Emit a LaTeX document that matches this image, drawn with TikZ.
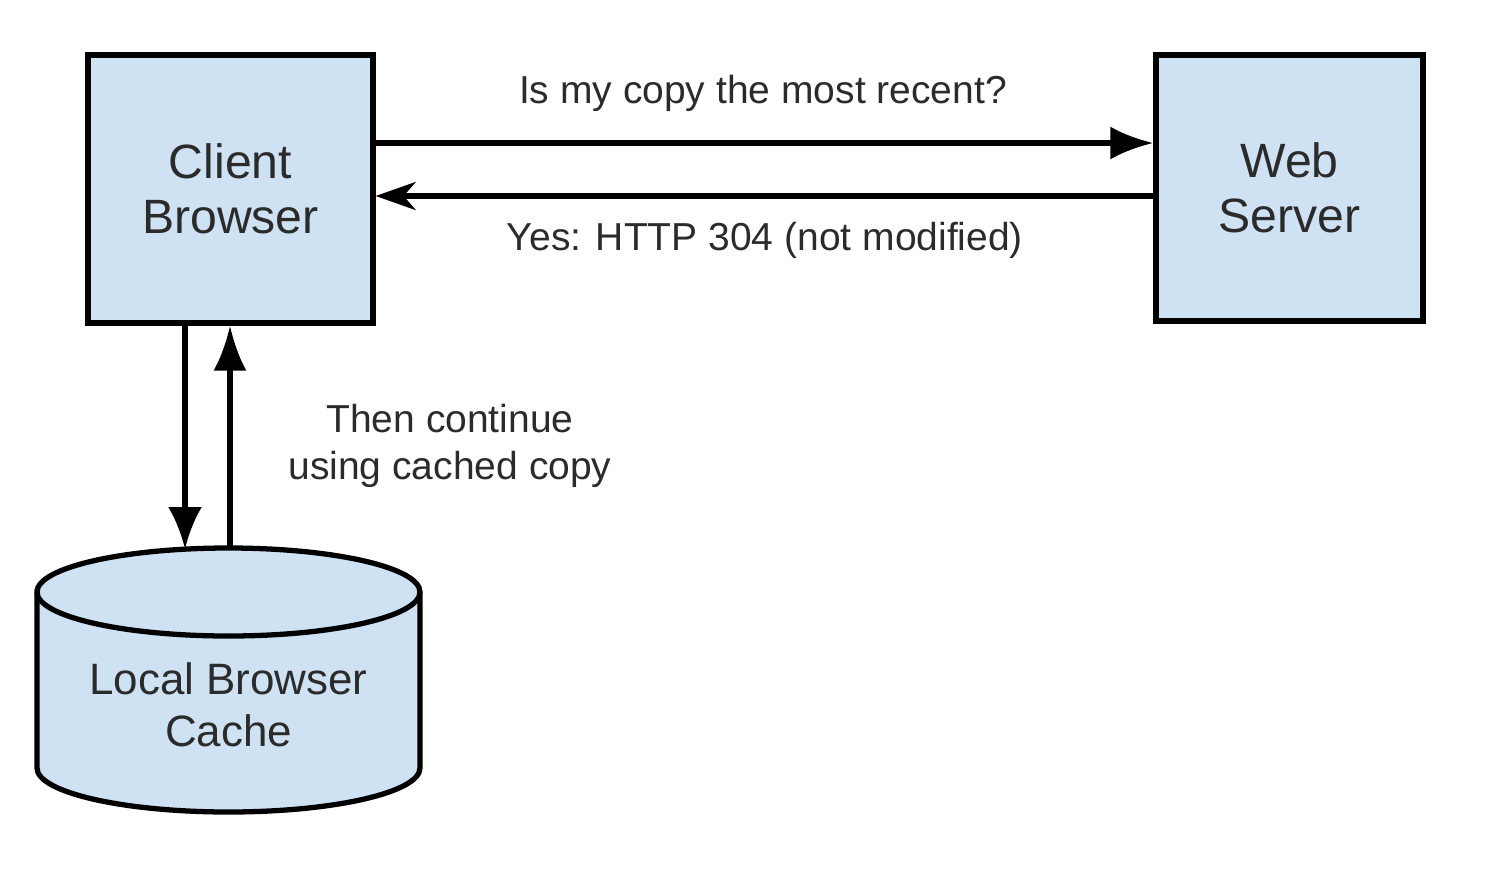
\documentclass[tikz,border=0pt]{standalone}
\usepackage{fontspec}
\setmainfont{Liberation Sans}
\usetikzlibrary{arrows.meta}
\definecolor{boxblue}{HTML}{CFE2F3}
\definecolor{inkgray}{HTML}{2B2B2B}
\begin{document}
\begin{tikzpicture}[line width=1.5pt,
  box/.style={draw=black, fill=boxblue, text=inkgray, align=center, font=\fontsize{13.7}{15.6}\selectfont},
  lbl/.style={text=inkgray, align=center, font=\fontsize{11.1}{13.2}\selectfont}]
  \useasboundingbox (0,0) rectangle (15.09,8.79);
  % the two boxes
  \node[box, minimum width=2.85cm, minimum height=2.68cm] (cb) at (2.305,6.90) {Client\\Browser};
  \node[box, minimum width=2.67cm, minimum height=2.66cm] (ws) at (12.895,6.91) {Web\\Server};
  % cache cylinder
  \draw[fill=boxblue] (0.37,2.87) -- (0.37,1.11) arc[start angle=180,end angle=360,x radius=1.915,y radius=0.44]
    -- (4.20,2.87) arc[start angle=0,end angle=180,x radius=1.915,y radius=0.44] -- cycle;
  \draw (0.37,2.87) arc[start angle=180,end angle=360,x radius=1.915,y radius=0.44];
  \coordinate (cachetop) at (2.285,3.30);
  \node[lbl, font=\fontsize{12.5}{14.8}\selectfont] (cache) at (2.285,1.74) {Local Browser\\Cache};
  % request / answer
  \draw[-{Latex[length=4.3mm,width=3.3mm]}] ([yshift=4.6mm]cb.east) -- ([yshift=4.6mm]cb.east -| ws.west);
  \draw[-{Stealth[length=4mm,width=2.8mm,inset=1.2mm]}] ([yshift=-0.7mm]cb.east -| ws.west) -- ([yshift=-0.7mm]cb.east);
  \node[lbl] (ask) at (7.63,7.86) {Is my copy the most recent?};
  \node[lbl] (yes) at (7.65,6.39) {Yes: HTTP 304 (not modified)};
  % browser <-> cache
  \draw[-{Latex[length=4.2mm,width=3.4mm]}] ([xshift=-4.55mm]cb.south) -- ([xshift=-4.55mm]cb.south |- cachetop);
  \draw[-{Latex[length=4.5mm,width=3.3mm]}] ([xshift=-0.05mm]cb.south |- cachetop) -- ([xshift=-0.05mm]cb.south);
  \node[lbl] (cont) at (4.50,4.33) {Then continue\\using cached copy};
\end{tikzpicture}
\end{document}
